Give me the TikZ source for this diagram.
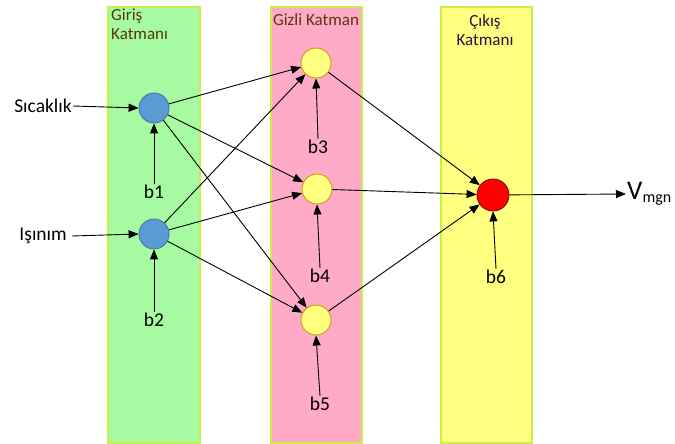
\documentclass[tikz,border=0pt]{standalone}
\usepackage{fontspec}
\setmainfont{Carlito}
\usetikzlibrary{arrows.meta}
\definecolor{grfill}{RGB}{166,251,162}
\definecolor{pkfill}{RGB}{255,170,200}
\definecolor{ylfill}{RGB}{255,255,128}
\definecolor{bandedge}{RGB}{200,240,70}
\definecolor{bluefill}{RGB}{91,155,213}
\definecolor{blueedge}{RGB}{65,113,156}
\definecolor{hidfill}{RGB}{255,255,128}
\definecolor{hidedge}{RGB}{214,160,20}
\definecolor{outfill}{RGB}{255,0,0}
\definecolor{outedge}{RGB}{120,0,0}
\definecolor{brownlbl}{RGB}{90,55,5}
\definecolor{purplbl}{RGB}{50,15,60}
\tikzset{
  band/.style={draw=bandedge, line width=1.2pt},
  inneuron/.style={circle, draw=blueedge, fill=bluefill, line width=0.8pt, minimum size=30pt, inner sep=0pt},
  hidneuron/.style={circle, draw=hidedge, fill=hidfill, line width=1pt, minimum size=30pt, inner sep=0pt},
  outneuron/.style={circle, draw=outedge, fill=outfill, line width=0.8pt, minimum size=32pt, inner sep=0pt},
  lbl/.style={font=\fontsize{19.5}{21}\selectfont, inner sep=1pt},
  laylbl/.style={font=\fontsize{17}{18.5}\selectfont, inner sep=0pt},
  conn/.style={-{Triangle[length=10pt,width=8pt]}, line width=0.9pt, black},
}
\begin{document}
\begin{tikzpicture}[x=1pt,y=-1pt]
\useasboundingbox (0,0) rectangle (675,444);
\fill[white] (0,0) rectangle (675,444);
% bands
\draw[band, fill=grfill] (108,7) rectangle (200,443);
\draw[band, fill=pkfill] (271,7) rectangle (362,443);
\draw[band, fill=ylfill] (441,7) rectangle (532,443);
% layer labels
\node[laylbl, text=brownlbl, anchor=north west, align=left] (Lin) at (111,9) {Giriş\\Katmanı};
\node[laylbl, text=brownlbl] (Lhid) at (316,20) {Gizli Katman};
\node[laylbl, text=purplbl, align=center] (Lout) at (485,30) {Çıkış\\Katmanı};
% neurons
\node[inneuron] (i1) at (154,108) {};
\node[inneuron] (i2) at (154,234) {};
\node[hidneuron] (h3) at (316,63) {};
\node[hidneuron] (h4) at (317,189) {};
\node[hidneuron] (h5) at (316,320) {};
\node[outneuron] (o) at (493,195) {};
% input labels
\node[lbl, anchor=east] (x1) at (73,106) {Sıcaklık};
\node[lbl, anchor=east] (x2) at (68,236) {Işınım};
% bias labels
\node[lbl] (b1) at (154,192) {b1};
\node[lbl] (b2) at (154,320) {b2};
\node[lbl] (b3) at (318,147) {b3};
\node[lbl] (b4) at (320,276) {b4};
\node[lbl] (b5) at (320,404) {b5};
\node[lbl] (b6) at (496,277) {b6};
% output label
\node[anchor=west, inner sep=1pt] (V) at (626,194) {\fontsize{27}{28}\selectfont V\raisebox{-3pt}{\fontsize{16}{17}\selectfont mgn}};
% connections
\draw[conn] (x1.east) -- (i1.west);
\draw[conn] ([xshift=4pt]x2.east) -- (i2.west);
\foreach \a in {i1,i2}{
  \foreach \b in {h3,h4,h5}{
    \draw[conn] (\a) -- (\b);
  }
}
\foreach \a in {h3,h4,h5}{
  \draw[conn] (\a) -- (o);
}
\draw[conn] (o) -- (V.west);
\draw[conn] (b1.north) -- (i1.south);
\draw[conn] (b2.north) -- (i2.south);
\draw[conn] (b3.north) -- (h3.south);
\draw[conn] (b4.north) -- (h4.south);
\draw[conn] (b5.north) -- (h5.south);
\draw[conn] (b6.north) -- (o.south);
\end{tikzpicture}
\end{document}
